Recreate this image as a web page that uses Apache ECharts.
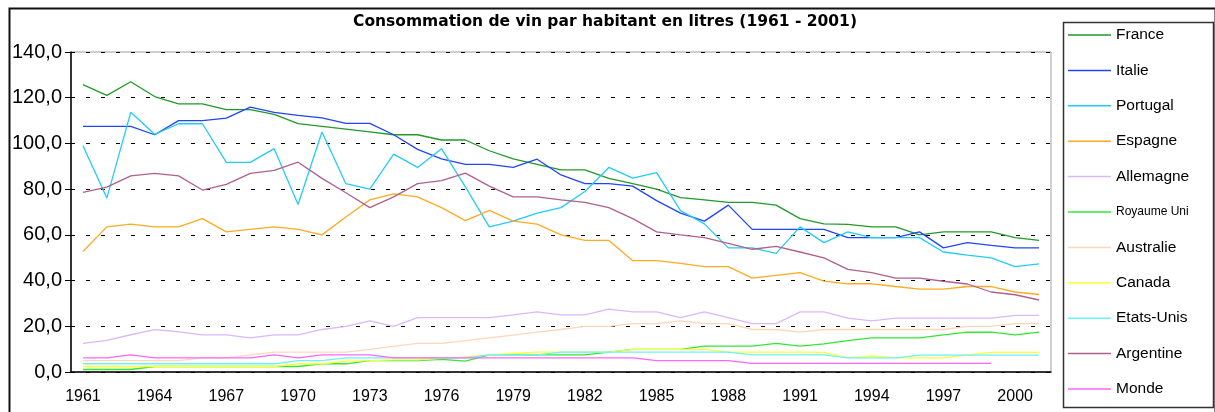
<!DOCTYPE html>
<html style="height: 100%">
<head>
    <meta charset="utf-8" />
    <title>Consommation de vin par habitant</title>
    <script src="https://cdn.jsdelivr.net/npm/echarts@6/dist/echarts.min.js"></script>
</head>
<body style="height: 100%; margin: 0; overflow: hidden; background: #fff">
    <div id="container" style="width: 1215px; height: 412px"></div>
    <script>
        // années 1961 - 2001
        var years = [];
        for (var y = 1961; y <= 2001; y++) years.push(String(y));

        var yTicks = [0, 20, 40, 60, 80, 100, 120, 140];

        var france = [125.7, 121, 127, 120.5, 117.3, 117.3, 114.8, 114.8, 112.7, 108.7, 107.5, 106.3, 105.1, 103.8, 103.8, 101.5, 101.5, 96.8, 93.2, 90.8, 88.4, 88.4, 84.7, 82.4, 80, 76.3, 75.3, 74.2, 74.2, 73, 67.1, 64.8, 64.6, 63.5, 63.5, 60, 61.3, 61.3, 61.3, 58.8, 57.6];
        var italie = [107.5, 107.5, 107.5, 103.8, 110, 110, 111.1, 115.9, 113.6, 112.3, 111.2, 108.8, 108.8, 103.8, 97.4, 93.2, 90.8, 90.8, 89.5, 93.1, 86.2, 82.4, 82.4, 81.3, 75, 69.5, 66, 73, 62.4, 62.4, 62.4, 62.4, 58.8, 58.8, 58.8, 61.3, 54.3, 56.6, 55.4, 54.3, 54.3];
        var portugal = [99, 76.1, 113.6, 104, 108.6, 108.6, 91.7, 91.7, 97.7, 73.3, 105, 82.4, 80, 95.3, 89.5, 97.7, 81, 63.5, 66, 69.5, 71.9, 79, 89.5, 84.8, 87.2, 70.6, 64.8, 54.3, 54.3, 51.9, 63.5, 56.6, 61.3, 58.8, 58.8, 58.8, 52.5, 51.1, 49.9, 46.1, 47.3];
        var espagne = [52.7, 63.5, 64.7, 63.5, 63.5, 67.1, 61.3, 62.4, 63.5, 62.4, 60, 67.8, 75.3, 77.9, 76.6, 71.9, 66.2, 70.7, 66, 64.7, 60, 57.6, 57.6, 48.7, 48.7, 47.5, 46.1, 46.1, 41.1, 42.3, 43.5, 39.8, 38.6, 38.6, 37.4, 36.3, 36.3, 37.4, 37.4, 35, 33.9];
        var allemagne = [12.5, 13.8, 16.3, 18.5, 17.6, 16.2, 16.2, 14.9, 16.2, 16.2, 18.6, 20, 22.4, 20, 23.8, 23.8, 23.8, 23.8, 25, 26.3, 25, 25, 27.5, 26.3, 26.3, 23.8, 26.3, 23.8, 21.2, 21.2, 26.3, 26.3, 23.6, 22.4, 23.6, 23.6, 23.6, 23.6, 23.6, 24.8, 24.8];
        var royaumeUni = [1.1, 1.1, 1.1, 2.4, 2.4, 2.4, 2.4, 2.4, 2.4, 2.4, 3.6, 3.6, 5, 5, 5, 5.5, 4.8, 7.5, 7.5, 7.5, 7.5, 7.5, 8.7, 9.9, 9.9, 9.9, 11.3, 11.3, 11.3, 12.5, 11.3, 12.3, 13.7, 14.9, 14.9, 14.9, 16.2, 17.4, 17.4, 16.2, 17.4];
        var australie = [5, 5, 5, 5, 5, 6.2, 6.2, 7.5, 8.7, 8.7, 8.7, 8.7, 9.9, 11.2, 12.5, 12.5, 13.7, 14.9, 16.1, 17.4, 18.6, 20, 20, 21.2, 21.2, 22.4, 21.2, 21.2, 18.6, 18.6, 17.4, 18.6, 18.6, 18.6, 18.6, 18.6, 18.6, 20, 20, 21.2, 21.2];
        var canada = [2.4, 2.4, 2.4, 2.4, 2.4, 2.4, 2.4, 2.4, 2.4, 3.6, 3.6, 4.8, 5, 5.3, 5.3, 6, 6.6, 7.5, 8.1, 8.7, 8.7, 8.7, 8.7, 9.9, 9.9, 9.9, 9.9, 8.7, 8.7, 8.7, 8.7, 8.6, 6.2, 7, 6.2, 6.2, 6.2, 7.5, 8.6, 8.6, 8.6];
        var etatsUnis = [3.6, 3.6, 3.6, 3.6, 3.6, 3.6, 3.6, 3.6, 3.6, 5, 5, 6.2, 6.2, 6.2, 6.2, 6.2, 6.2, 7.5, 7.5, 7.5, 8.7, 8.7, 8.7, 8.7, 8.7, 8.7, 8.7, 8.7, 7.5, 7.5, 7.5, 7.5, 6.2, 6.2, 6.2, 7.4, 7.4, 7.4, 7.4, 7.4, 7.4];
        var argentine = [78.6, 80.9, 85.8, 86.9, 85.8, 79.6, 82.1, 86.9, 88.2, 91.8, 84.7, 78.4, 71.9, 76.6, 82.4, 83.7, 87, 81.3, 76.6, 76.6, 75.3, 74.2, 71.9, 67.1, 61.3, 60, 58.8, 56.3, 53.7, 55, 52.5, 49.9, 44.9, 43.5, 41.1, 41.1, 39.7, 38.5, 35, 33.8, 31.5];
        var monde = [6.2, 6.2, 7.5, 6.2, 6.2, 6.2, 6.2, 6.2, 7.5, 6.2, 7.5, 7.5, 7.5, 6.2, 6.2, 6.2, 6.2, 6.2, 6.2, 6.2, 6.2, 6.2, 6.2, 6.2, 5, 5, 5, 5, 3.8, 3.8, 3.8, 3.8, 3.8, 3.8, 3.8, 3.8, 3.8, 3.8, 3.8, null, null];

        var names = ["France", "Italie", "Portugal", "Espagne", "Allemagne", "Royaume Uni", "Australie", "Canada", "Etats-Unis", "Argentine", "Monde"];
        var values = [france, italie, portugal, espagne, allemagne, royaumeUni, australie, canada, etatsUnis, argentine, monde];
        var colors = ["#22992a", "#2244ff", "#22ccf8", "#ffaa22", "#dab8ff", "#33e833", "#ffd6b8", "#ffff33", "#66f4ff", "#b0608a", "#ff66ff"];

        var dom = document.getElementById("container");
        var myChart = echarts.init(dom, null, { renderer: "canvas" });

        var series = names.map(function (n, i) {
            return {
                name: n,
                type: "line",
                data: values[i],
                symbol: "none",
                connectNulls: false,
                lineStyle: { width: 1.3, color: colors[i] },
                itemStyle: { color: colors[i] },
            };
        });

        var option = {
            animation: false,
            backgroundColor: "#fff",
            title: {
                text: "Consommation de vin par habitant en litres (1961 - 2001)",
                left: 600,
                top: 9,
                textAlign: "center",
                textStyle: { fontFamily: "DejaVu Sans", fontWeight: "bold", fontSize: 15.5, color: "#000" },
            },
            grid: {
                left: 71, right: 164, top: 52, bottom: 40,
                show: true, borderColor: "#a0a0a0", borderWidth: 1, backgroundColor: "transparent",
            },
            legend: {
                orient: "vertical",
                left: 1068,
                top: 26,
                padding: 0,
                icon: "rect",
                itemWidth: 43,
                itemHeight: 1.5,
                itemGap: 17.4,
                data: names,
                formatter: function (n) {
                    return n === "Royaume Uni" ? "{s|" + n + "}" : n;
                },
                textStyle: {
                    fontFamily: "Liberation Sans", fontSize: 15.5, lineHeight: 18, color: "#000",
                    rich: { s: { fontFamily: "Liberation Sans", fontSize: 12, lineHeight: 18 } },
                },
            },
            xAxis: {
                type: "category",
                data: years,
                boundaryGap: true,
                axisLine: { lineStyle: { color: "#000", width: 1.5 } },
                axisTick: { interval: 0, length: 5, lineStyle: { color: "#000" } },
                axisLabel: {
                    interval: 2, margin: 17, color: "#000",
                    fontFamily: "Liberation Sans", fontSize: 16,
                },
                splitLine: { show: false },
            },
            yAxis: {
                type: "value",
                min: yTicks[0],
                max: yTicks[yTicks.length - 1],
                interval: 20,
                axisLine: { show: true, lineStyle: { color: "#000", width: 1.5 } },
                axisTick: { show: true, length: 6, lineStyle: { color: "#000" } },
                axisLabel: {
                    margin: 9, color: "#000", fontFamily: "Liberation Sans", fontSize: 20,
                    formatter: function (v) { return v.toFixed(1).replace(".", ","); },
                },
                splitLine: { lineStyle: { color: "#000", type: [4, 11], width: 1 } },
            },
            graphic: [
                { type: "rect", left: 7, top: 6, z: 100, silent: true,
                  shape: { width: 1206, height: 420 },
                  style: { fill: null, stroke: "#111", lineWidth: 2 } },
                { type: "rect", left: 1061, top: 20, z: 100, silent: true,
                  shape: { width: 150, height: 385 },
                  style: { fill: null, stroke: "#333", lineWidth: 1.5 } },
            ],
            series: series,
        };

        myChart.setOption(option);
        window.addEventListener("resize", myChart.resize);
    </script>
</body>
</html>
